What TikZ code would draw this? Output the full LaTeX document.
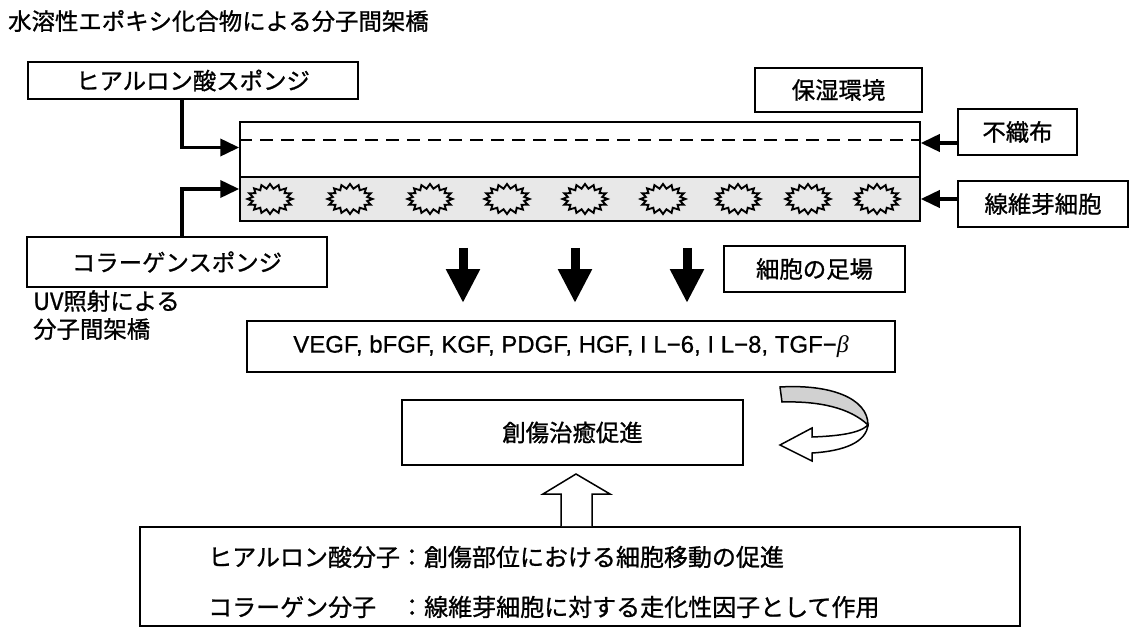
\documentclass[tikz,border=0pt]{standalone}
\usepackage{fontspec}
\newfontfamily\jp[FakeBold=1]{Noto Sans CJK JP}
\newfontfamily\lat[FakeBold=0.6]{Liberation Sans}
\newfontfamily\grk{Liberation Serif}
\usetikzlibrary{arrows.meta,calc}
\tikzset{
  jptext/.style={font=\jp\fontsize{23.4}{28}\selectfont, inner sep=0pt},
  box/.style={draw, line width=1.7pt, inner sep=0pt, jptext},
  band/.style={draw, line width=1.5pt, inner sep=0pt, minimum width=680pt},
  conn/.style={line width=3.8pt, -{Triangle[length=19pt,width=17pt]}},
  downarr/.style={line width=9pt, -{Triangle[length=34pt,width=32pt]}},
  burst/.style={line width=1.9pt, line join=miter},
}
\begin{document}
\begin{tikzpicture}[x=1pt,y=-1pt]
\useasboundingbox (0,0) rectangle (1130,631);

% title
\node[jptext, anchor=west] (title) at (8,21) {水溶性エポキシ化合物による分子間架橋};

% boxes
\node[box, minimum width=330pt, minimum height=37pt] (hyal) at (193,80.5) {ヒアルロン酸スポンジ};
\node[box, minimum width=167pt, minimum height=44pt] (hoshitsu) at (838.5,90) {保湿環境};
\node[box, minimum width=119pt, minimum height=46pt] (fushoku) at (1017.5,132) {不織布};
\node[box, minimum width=170pt, minimum height=46pt] (senzui) at (1043,204) {線維芽細胞};
\node[box, minimum width=300pt, minimum height=50pt] (collagen) at (177,262) {コラーゲンスポンジ};
\node[jptext, anchor=north west, align=left] (uv) at (33,290) {UV照射による\\分子間架橋};
\node[box, minimum width=181pt, minimum height=46pt] (ashiba) at (814.5,269) {細胞の足場};
\node[box, minimum width=648pt, minimum height=51pt] (vegf) at (571,346.5)
  {\lat\fontsize{24}{28}\selectfont VEGF, bFGF, KGF, PDGF, HGF, I L−6, I L−8, TGF−{\grk\itshape β}};
\node[box, minimum width=341pt, minimum height=65pt] (sousho) at (572.5,432.5) {創傷治癒促進};
\node[box, minimum width=880pt, minimum height=99pt] (bottom) at (580,576.5) {};
\node[jptext, font=\jp\fontsize{24}{28}\selectfont, anchor=west] (line1) at (208,557) {ヒアルロン酸分子：創傷部位における細胞移動の促進};
\node[jptext, font=\jp\fontsize{24}{28}\selectfont, anchor=west] (line2) at (208,607) {コラーゲン分子　：線維芽細胞に対する走化性因子として作用};

% band
\node[band, minimum height=55pt] (upper) at (580,149.5) {};
\node[band, fill=black!9, minimum height=44pt] (lower) at (580,199) {};
\draw[line width=2.4pt, dash pattern=on 13pt off 8pt]
  ($(upper.west)+(0,-9.5)$) -- ($(upper.east)+(0,-9.5)$);

% starbursts (cells)
\foreach \cx in {270,350,430,507,585,663,738,808,877}{
  \draw[burst] plot[samples at={0,...,32}, variable=\k]
    ({\cx+ifthenelse(mod(\k,2)==0,22.5,17.5)*cos(\k*11.25)},
     {199+ifthenelse(mod(\k,2)==0,15,10.5)*sin(\k*11.25)}) -- cycle;
}

% connectors
\coordinate (hx) at (182,0);
\draw[conn] (hx |- hyal.south) |- ([yshift=2pt]upper.west);
\draw[conn] (hx |- collagen.north) |- ([yshift=10pt]lower.west);
\draw[conn] ([yshift=-11pt]fushoku.west) -- ([yshift=-11pt]fushoku.west -| upper.east);
\draw[conn] (senzui.west |- lower.east) -- (lower.east);

% down arrows
\foreach \ax/\nm in {463/a,575/b,687/c}{
  \coordinate (d\nm1) at (\ax,248);
  \coordinate (d\nm2) at (\ax,303);
  \draw[downarr] (d\nm1) -- (d\nm2);
}

% hollow up arrow
\draw[line width=1.5pt, fill=white, line join=miter]
  (bottom.north -| 561,0) -- (561,494) -- (543,494) -- (576,474) -- (610,494) -- (592,494) -- (bottom.north -| 592,0);

% curved ribbon arrow
\draw[line width=1.5pt, fill=black!18]
  (780,387) .. controls (830,384) and (868,398) .. (868,425)
  .. controls (850,408) and (820,401) .. (782,402) -- cycle;
\draw[line width=1.5pt, fill=white, line join=miter]
  (868,425) .. controls (866,442) and (845,451) .. (812,453)
  -- (812,461) -- (780,445) -- (812,428) -- (812,437)
  .. controls (840,436) and (860,433) .. (868,425) -- cycle;
\end{tikzpicture}
\end{document}
